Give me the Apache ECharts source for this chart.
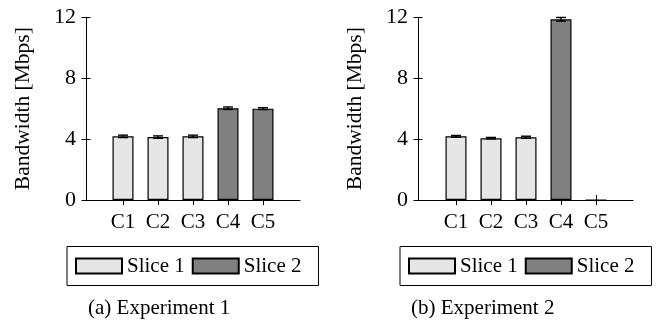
<!DOCTYPE html>
<html>
<head>
<meta charset="utf-8">
<script src="https://cdn.jsdelivr.net/npm/echarts@6/dist/echarts.min.js"></script>
<style>html,body{margin:0;padding:0;background:#fff;}#c{width:657px;height:323px;}</style>
</head>
<body>
<div id="c"></div>
<script>
const categories = ['C1', 'C2', 'C3', 'C4', 'C5'];
const yTicks = [0, 4, 8, 12];
const seriesNames = ['Slice 1', 'Slice 2'];
const exp1Slice1 = [4.18, 4.13, 4.18, null, null];
const exp1Slice2 = [null, null, null, 6.03, 6.0];
const exp1Err = [0.08, 0.08, 0.08, 0.08, 0.06];
const exp2Slice1 = [4.18, 4.06, 4.12, null, null];
const exp2Slice2 = [null, null, null, 11.87, 0];
const exp2Err = [0.06, 0.05, 0.07, 0.12, 0];
const captions = ['(a) Experiment 1', '(b) Experiment 2'];
const yName = 'Bandwidth [Mbps]';

const FONT = "'Liberation Serif', 'Times New Roman', serif";
const LIGHT = '#e6e6e6', DARK = '#808080';
const yMin = yTicks[0], yMax = yTicks[yTicks.length - 1], yInt = yTicks[1] - yTicks[0];

const panels = [
  { frameLeft: 86, frameRight: 300, barLeft: 105.5, s1: exp1Slice1, s2: exp1Slice2, err: exp1Err, legendLeft: 67, capLeft: 88 },
  { frameLeft: 418, frameRight: 633, barLeft: 438.5, s1: exp2Slice1, s2: exp2Slice2, err: exp2Err, legendLeft: 400, capLeft: 411 }
];

const grid = [], xAxis = [], yAxis = [], series = [], legend = [], title = [];
const TOP = 17.3, BOTTOM = 323 - 200;

panels.forEach((p, k) => {
  const gFrame = grid.length;
  grid.push({ left: p.frameLeft, width: p.frameRight - p.frameLeft, top: TOP, bottom: BOTTOM });
  const gBar = grid.length;
  grid.push({ left: p.barLeft, width: 175, top: TOP, bottom: BOTTOM });

  xAxis.push({ gridIndex: gFrame, type: 'category', data: [''], axisLine: { lineStyle: { color: '#000', width: 1 } },
    axisTick: { show: false }, axisLabel: { show: false }, splitLine: { show: false } });
  const xLab = xAxis.length;
  xAxis.push({ gridIndex: gBar, type: 'category', data: categories, position: 'bottom',
    axisLine: { show: false },
    axisTick: { show: true, alignWithLabel: true, length: 5, lineStyle: { color: '#000', width: 1 } },
    axisLabel: { color: '#000', fontFamily: FONT, fontSize: 21, margin: 12 } });
  xAxis.push({ gridIndex: gBar, type: 'category', data: categories, position: 'bottom',
    axisLine: { show: false },
    axisTick: { show: true, inside: true, alignWithLabel: true, length: 5, lineStyle: { color: '#000', width: 1 } },
    axisLabel: { show: false } });

  yAxis.push({ gridIndex: gFrame, type: 'value', min: yMin, max: yMax, interval: yInt, position: 'left',
    axisLine: { show: true, lineStyle: { color: '#000', width: 1 } },
    axisTick: { show: true, length: 4.5, lineStyle: { color: '#000', width: 1 } },
    axisLabel: { color: '#000', fontFamily: FONT, fontSize: 22, margin: 10 },
    splitLine: { show: false },
    name: yName, nameLocation: 'middle', nameGap: 52,
    nameTextStyle: { color: '#000', fontFamily: FONT, fontSize: 21.5 } });
  yAxis.push({ gridIndex: gFrame, type: 'value', min: yMin, max: yMax, interval: yInt, position: 'left',
    axisLine: { show: false },
    axisTick: { show: true, inside: true, length: 4.5, lineStyle: { color: '#000', width: 1 } },
    axisLabel: { show: false }, splitLine: { show: false } });
  const yBar = yAxis.length;
  yAxis.push({ gridIndex: gBar, type: 'value', min: yMin, max: yMax, interval: yInt, show: false, splitLine: { show: false } });

  const common = { type: 'bar', xAxisIndex: xLab, yAxisIndex: yBar, stack: 'p' + k, barWidth: 21 };
  series.push(Object.assign({}, common, { name: seriesNames[0], data: p.s1,
    itemStyle: { color: LIGHT, borderColor: '#000', borderWidth: 1.2 } }));
  series.push(Object.assign({}, common, { name: seriesNames[1], data: p.s2,
    itemStyle: { color: DARK, borderColor: '#000', borderWidth: 1.2 } }));

  const errData = categories.map((c, i) => [i, (p.s1[i] != null ? p.s1[i] : p.s2[i]), p.err[i]]).filter(d => d[2] > 0);
  series.push({ type: 'custom', xAxisIndex: xLab, yAxisIndex: yBar, data: errData, z: 5, silent: true,
    renderItem: function (params, api) {
      const x = api.value(0), v = api.value(1), e = api.value(2);
      const hi = api.coord([x, v + e]), lo = api.coord([x, v - e]);
      const hw = 5;
      const st = { stroke: '#000', lineWidth: 1.4 };
      return { type: 'group', children: [
        { type: 'line', shape: { x1: hi[0], y1: hi[1], x2: lo[0], y2: lo[1] }, style: st },
        { type: 'line', shape: { x1: hi[0] - hw, y1: hi[1], x2: hi[0] + hw, y2: hi[1] }, style: st },
        { type: 'line', shape: { x1: lo[0] - hw, y1: lo[1], x2: lo[0] + hw, y2: lo[1] }, style: st }
      ] };
    } });

  legend.push({ data: seriesNames, left: p.legendLeft, top: 246.5, orient: 'horizontal',
    itemWidth: 46, itemHeight: 15, itemGap: 7, icon: 'rect',
    borderColor: '#000', borderWidth: 1, padding: [9, 17, 9, 8],
    textStyle: { color: '#000', fontFamily: FONT, fontSize: 21 } });

  title.push({ text: captions[k], left: p.capLeft, top: 298, padding: 0,
    textStyle: { color: '#000', fontFamily: FONT, fontSize: 21, fontWeight: 'normal' } });
});

const chart = echarts.init(document.getElementById('c'), null, { renderer: 'canvas' });
chart.setOption({ animation: false, backgroundColor: '#fff', grid, xAxis, yAxis, series, legend, title });
</script>
</body>
</html>
